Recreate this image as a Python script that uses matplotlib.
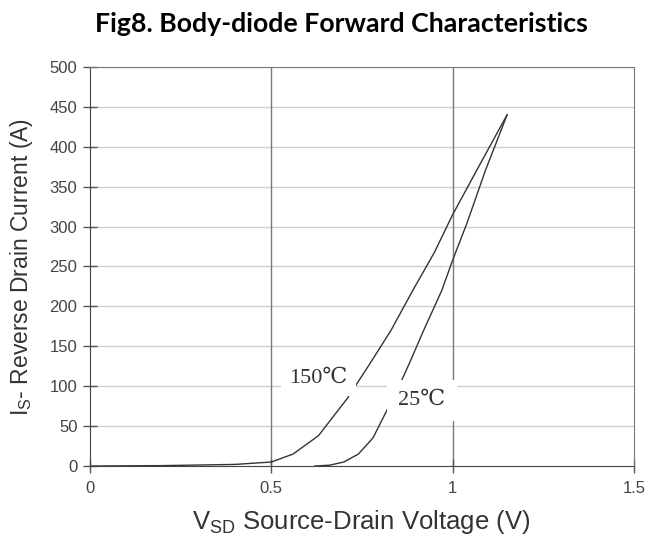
import matplotlib
matplotlib.use("Agg")
import matplotlib.pyplot as plt

v_150 = [0.0, 0.2, 0.4, 0.5, 0.56, 0.63, 0.71, 0.77, 0.83, 0.89, 0.95, 1.0, 1.08, 1.15]
i_150 = [0, 0.5, 2, 5, 15, 38, 85, 127, 170, 220, 268, 315, 382, 440]

v_25 = [0.62, 0.66, 0.70, 0.74, 0.78, 0.81, 0.85, 0.88, 0.92, 0.97, 1.0, 1.04, 1.09, 1.15]
i_25 = [0, 1, 5, 15, 35, 62, 98, 128, 170, 220, 258, 305, 370, 440]

x_ticks = [0, 0.5, 1, 1.5]
x_tick_labels = ["0", "0.5", "1", "1.5"]
y_ticks = list(range(0, 501, 50))

plt.rcParams["font.family"] = ["Liberation Sans", "DejaVu Sans"]
plt.rcParams["mathtext.default"] = "regular"

fig = plt.figure(figsize=(6.65, 5.38), dpi=100)
ax = fig.add_axes([0.1353, 0.1338, 0.8181, 0.7417])

ax.plot(v_150, i_150, color="#333333", lw=1.0, zorder=3)
ax.plot(v_25, i_25, color="#333333", lw=1.0, zorder=3)

for y in y_ticks[1:]:
    ax.axhline(y, color="#cfcfcf", lw=1.0, zorder=1)
for x in [0.5, 1.0]:
    ax.axvline(x, color="#7a7a7a", lw=1.0, zorder=1)

serif = ["Liberation Serif", "DejaVu Serif"]
ax.text(0.63, 110, "150\u2103", family=serif, fontsize=16, color="#333333",
        ha="center", va="center", zorder=4,
        bbox=dict(facecolor="white", edgecolor="none", pad=6))
ax.text(0.915, 82, "25\u2103", family=serif, fontsize=16, color="#333333",
        ha="center", va="center", zorder=4,
        bbox=dict(facecolor="white", edgecolor="none", pad=8))

ax.set_xlim(0, 1.5)
ax.set_ylim(0, 500)
ax.set_xticks(x_ticks)
ax.set_xticklabels(x_tick_labels)
ax.set_yticks(y_ticks)
ax.tick_params(axis="both", direction="inout", length=10, width=1, colors="#555555",
               labelsize=12, labelcolor="#444444")
ax.tick_params(axis="x", pad=6)
ax.tick_params(axis="y", pad=4)
for s in ax.spines.values():
    s.set_color("#7a7a7a")
ax.spines["bottom"].set_color("#444444")
ax.spines["left"].set_color("#444444")

ax.set_xlabel("V$_{SD}$ Source-Drain Voltage (V)", fontsize=18.5, color="#333333")
ax.set_ylabel("I$_{S}$- Reverse Drain Current (A)", fontsize=16.5, color="#333333")
ax.xaxis.set_label_coords(0.499, -0.105)
ax.yaxis.set_label_coords(-0.101, 0.5)

fig.suptitle("Fig8. Body-diode Forward Characteristics", x=0.513, y=0.978,
             fontsize=19.3, fontweight="bold", family=["Lato", "DejaVu Sans"])

fig.savefig("out.png", dpi=100)
